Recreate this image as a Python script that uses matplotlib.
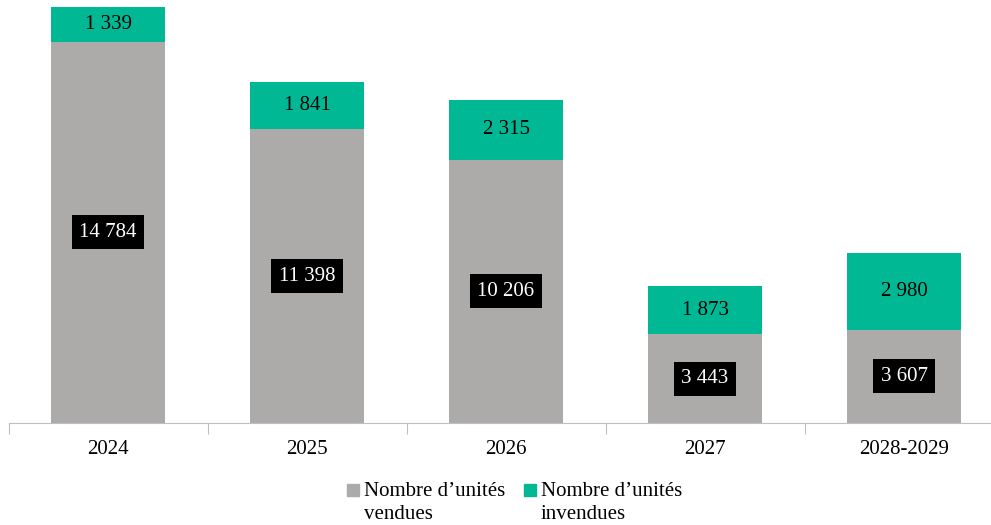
import matplotlib.pyplot as plt
from matplotlib.patches import Rectangle
import numpy as np

plt.rcParams['font.family'] = ['Liberation Serif', 'DejaVu Serif']

# unités vendues / invendues par période
periodes = ['2024', '2025', '2026', '2027', '2028-2029']
vendues = [14784, 11398, 10206, 3443, 3607]
invendues = [1339, 1841, 2315, 1873, 2980]
legende = ['Nombre d\u2019unités\nvendues', 'Nombre d\u2019unités\ninvendues']

gris = '#ADAAAA'
vert = '#00B994'


def fmt(v):
    return f'{v:,}'.replace(',', ' ')


fig = plt.figure(figsize=(9.91, 5.25), dpi=100)
ax = fig.add_axes([8.5 / 991, 102 / 525, 995 / 991, 423 / 525])

x = np.arange(len(periodes))
larg = 0.57
ax.bar(x, vendues, larg, color=gris)
ax.bar(x, invendues, larg, bottom=vendues, color=vert)

for i in range(len(periodes)):
    ax.text(x[i], vendues[i] / 2, fmt(vendues[i]), ha='center', va='center',
            fontsize=15, color='white',
            bbox=dict(boxstyle='square,pad=0.36', fc='black', ec='none'))
    ax.text(x[i], vendues[i] + invendues[i] / 2, fmt(invendues[i]),
            ha='center', va='center', fontsize=15, color='black')

ax.set_xlim(-0.5, len(periodes) - 0.5)
ax.set_ylim(0, 16400)
ax.set_yticks([])
for s in ['top', 'right', 'left']:
    ax.spines[s].set_visible(False)
ax.spines['bottom'].set_color('#BFBFBF')

# graduations entre les catégories
ax.set_xticks(np.arange(-0.5, len(periodes), 1.0))
ax.set_xticklabels([])
ax.set_xticks(x, minor=True)
ax.set_xticklabels(periodes, minor=True, fontsize=15)
ax.tick_params(axis='x', which='major', length=8, color='#BFBFBF')
ax.tick_params(axis='x', which='minor', length=0, pad=12)

# légende : carré aligné sur la première ligne du libellé
for xc, lab, c in zip([347, 524], legende, [gris, vert]):
    fig.patches.append(Rectangle((xc / 991, 1 - 496 / 525), 12 / 991, 12 / 525,
                                 transform=fig.transFigure, color=c))
    fig.text((xc + 17) / 991, 1 - 482 / 525, lab, fontsize=15, va='top',
             ha='left', linespacing=1.3)

fig.savefig('out.png', dpi=100)
